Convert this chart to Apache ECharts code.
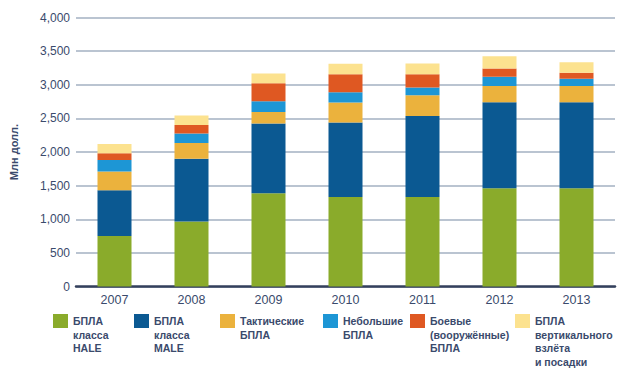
<!DOCTYPE html>
<html>
<head>
<meta charset="utf-8">
<script src="https://cdn.jsdelivr.net/npm/echarts@6/dist/echarts.min.js"></script>
<style>
html,body{margin:0;padding:0;background:#fff;}
#chart{width:630px;height:371px;}
</style>
</head>
<body>
<div id="chart"></div>
<script>
// ---- data ----
var categories = ['2007', '2008', '2009', '2010', '2011', '2012', '2013'];
var seriesNames = ['HALE', 'MALE', 'Tactical', 'Small', 'Combat', 'VTOL'];
var legendLabels = [
  'БПЛА\nкласса\nHALE',
  'БПЛА\nкласса\nMALE',
  'Тактические\nБПЛА',
  'Небольшие\nБПЛА',
  'Боевые\n(вооружённые)\nБПЛА',
  'БПЛА\nвертикального\nвзлёта\nи посадки'
];
var hale     = [750, 965, 1385, 1330, 1330, 1460, 1460];
var male     = [680, 935, 1040, 1110, 1205, 1280, 1280];
var tactical = [280, 235, 170, 295, 310, 240, 240];
var small    = [170, 140, 158, 153, 114, 138, 108];
var combat   = [100, 128, 268, 267, 198, 124, 89];
var vtol     = [140, 139, 148, 158, 158, 183, 159];
var yTicks = {min: 0, max: 4000, interval: 500};
var yTitle = 'Млн долл.';

// ---- styles ----
var colors = ['#8aab2b', '#0b5992', '#ebb23d', '#1d96d5', '#df5822', '#fce28f'];
var values = [hale, male, tactical, small, combat, vtol];
var textColor = '#3a4a6c';
var legendLeft = [53, 134, 220, 323, 410, 515];
var lineH = 13.6;
var iconCenter = 321;

var chart = echarts.init(document.getElementById('chart'), null, {renderer: 'svg'});

var series = seriesNames.map(function (n, i) {
  return {
    name: n,
    type: 'bar',
    stack: 'total',
    barWidth: 34,
    data: values[i],
    itemStyle: {color: colors[i]},
    emphasis: {disabled: true},
    silent: true
  };
});

var legends = seriesNames.map(function (n, i) {
  var lines = legendLabels[i].split('\n').length;
  var pt = (lines - 1) * lineH;
  var top = iconCenter - (2 * lines - 1) * lineH / 2;
  return {
    left: legendLeft[i],
    top: top,
    padding: 0,
    itemWidth: 15,
    itemHeight: 14,
    itemGap: 0,
    icon: 'rect',
    selectedMode: false,
    data: [{name: n, itemStyle: {color: colors[i]}}],
    formatter: function () { return legendLabels[i]; },
    textStyle: {
      color: textColor,
      fontFamily: 'Liberation Sans',
      fontWeight: 'bold',
      fontSize: 10.5,
      lineHeight: lineH,
      padding: [pt, 0, 0, 0],
      rich: {t: {}}
    }
  };
});

chart.setOption({
  animation: false,
  backgroundColor: '#fff',
  grid: {left: 73, right: 15, top: 17.5, bottom: 84.5, containLabel: false},
  legend: legends,
  xAxis: {
    type: 'category',
    data: categories,
    axisTick: {show: false},
    axisLine: {show: true, lineStyle: {color: '#34405c', width: 2.5}},
    axisLabel: {color: textColor, fontFamily: 'Liberation Sans', fontSize: 12.5, margin: 7}
  },
  yAxis: {
    type: 'value',
    min: yTicks.min,
    max: yTicks.max,
    interval: yTicks.interval,
    name: yTitle,
    nameLocation: 'middle',
    nameGap: 57,
    nameTextStyle: {color: textColor, fontFamily: 'Liberation Sans', fontWeight: 'bold', fontSize: 11},
    axisLine: {show: false},
    axisTick: {show: false},
    axisLabel: {
      color: textColor, fontFamily: 'Liberation Sans', fontSize: 12, margin: 6,
      formatter: function (v) { return v.toLocaleString('en-US'); }
    },
    splitLine: {lineStyle: {color: '#a3b0c2', width: 1.5}}
  },
  series: series
});
</script>
</body>
</html>
